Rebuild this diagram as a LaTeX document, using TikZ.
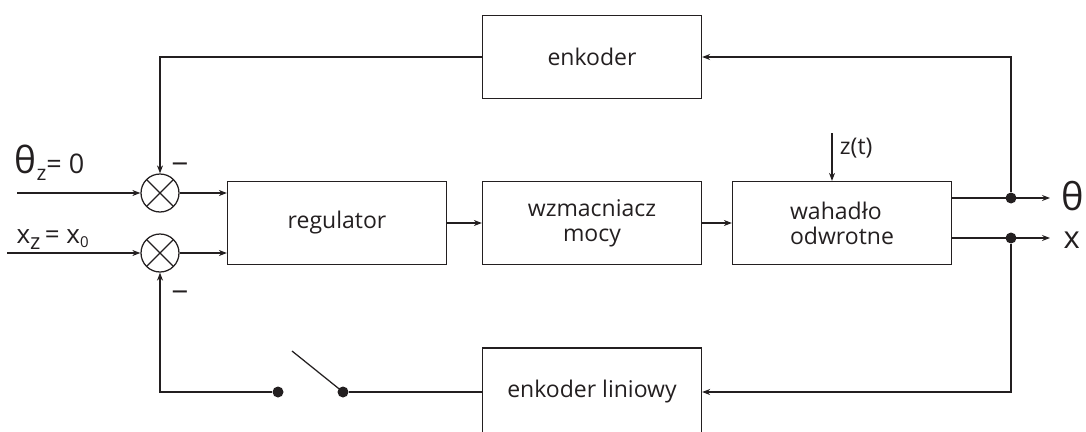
\documentclass[tikz,border=0pt]{standalone}
\usepackage{fontspec}
\setmainfont{Open Sans}
\usetikzlibrary{arrows.meta}
\definecolor{ink}{HTML}{231F20}

\begin{document}
\begin{tikzpicture}[x=1pt, y=-1pt, color=ink, line width=1.25pt,
    >={Stealth[length=8pt,width=6pt]},
    font=\fontsize{23}{25}\selectfont,
    block/.style={draw, minimum width=219pt, minimum height=83pt},
    summer/.style={draw, circle, minimum size=38pt, inner sep=0pt,
      path picture={\draw (path picture bounding box.north west) -- (path picture bounding box.south east)
        (path picture bounding box.south west) -- (path picture bounding box.north east);}},
    dot/.style={circle, fill, inner sep=0pt, minimum size=11pt},
    minus/.style={inner sep=0pt, font=\fontsize{30}{30}\selectfont}]
  \useasboundingbox (0,0) rectangle (1086,431);

  % blocks
  \node[block] (enc) at (592,57) {enkoder};
  \node[summer] (s1) at (160,193) {};
  \node[summer] (s2) at (160,253) {};
  \node[block] (reg) at (337,223) {regulator};
  \node[block, align=center] (amp) at (592,223) {wzmacniacz\\mocy};
  \node[block, align=left] (pend) at (842,223) {wahadło\\odwrotne};
  \node[block, minimum height=88pt] (lin) at (592,392) {enkoder liniowy};

  % set points
  \coordinate (in1) at (17,193);
  \coordinate (in2) at (7,253);
  \node[anchor=base west, inner sep=0pt] (lth) at (14,173)
    {{\fontsize{37}{37}\selectfont θ}\raisebox{-7pt}{\fontsize{21}{21}\selectfont z}{\fontsize{27}{27}\selectfont = 0}};
  \node[anchor=base west, inner sep=0pt] (lx) at (16,243)
    {{\fontsize{26}{26}\selectfont x}\raisebox{-6pt}{\fontsize{22}{22}\selectfont z}{\fontsize{26}{26}\selectfont\,= x}\raisebox{-4pt}{\fontsize{15}{15}\selectfont 0}};
  \draw[->] (in1) -- (s1);
  \draw[->] (in2) -- (s2);
  \node[minus] (m1) at (180,169) {−};
  \node[minus] (m2) at (180,297) {−};

  % forward path
  \draw[->] (s1) -- (s1 -| reg.west);
  \draw[->] (s2) -- (s2 -| reg.west);
  \draw[->] (reg) -- (amp);
  \draw[->] (amp) -- (pend);

  % disturbance
  \coordinate (zt) at (832,133);
  \draw[->] (zt) -- (zt |- pend.north);
  \node[anchor=west] (lzt) at (836,148) {z(t)};

  % outputs
  \node[dot] (d1) at (1011,198) {};
  \node[dot] (d2) at (1011,238) {};
  \coordinate (o1) at (1050,198);
  \coordinate (o2) at (1050,238);
  \draw[->] (pend.east |- d1) -- (o1);
  \draw[->] (pend.east |- d2) -- (o2);
  \node[anchor=west, inner sep=0pt, font=\fontsize{38}{38}\selectfont] (lout1) at (1061,196) {θ};
  \node[anchor=west, inner sep=0pt, font=\fontsize{31}{31}\selectfont] (lout2) at (1063,240) {x};

  % feedback loops
  \draw[->] (d1) |- (enc.east);
  \draw[->] (enc.west) -| (s1.north);
  \draw[->] (d2) |- (lin.east);
  \node[dot] (sw2) at (343,392) {};
  \node[dot] (sw1) at (278,392) {};
  \coordinate (blade) at (292,351);
  \draw (lin.west) -- (sw2);
  \draw (sw2.center) -- (blade);
  \draw[->] (sw1) -| (s2.south);
\end{tikzpicture}
\end{document}
